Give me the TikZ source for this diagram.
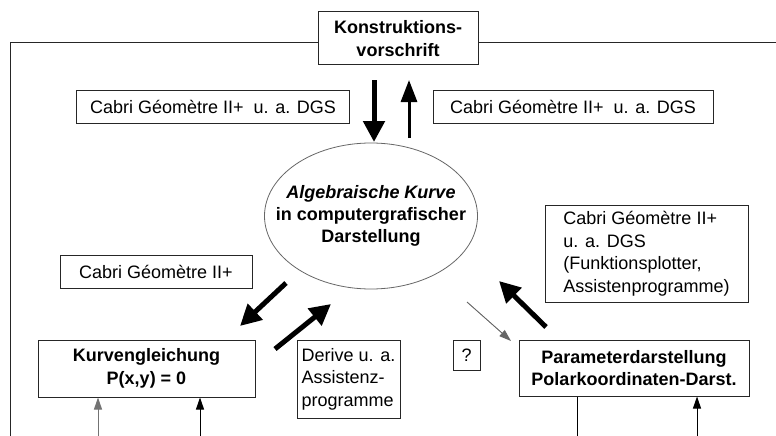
\documentclass[tikz,border=0pt]{standalone}
\usepackage{fontspec}
\setmainfont{Liberation Sans}
\usetikzlibrary{arrows.meta,shapes.geometric}
\begin{document}
\begin{tikzpicture}[x=1pt,y=-1pt,
  box/.style={draw=black!85, line width=1pt, fill=white, inner sep=0pt, align=center,
    font=\fontsize{18}{22.5}\selectfont},
  boldbox/.style={box, font=\fontsize{18}{22.5}\selectfont\bfseries},
  frame/.style={draw=black!85, line width=1pt},
  bigarrow/.style={line width=5pt, -{Triangle[width=21pt,length=21pt]}},
  midarrow/.style={line width=3pt, -{Triangle[width=16pt,length=22pt]}},
  thinarrow/.style={line width=0.9pt, -{Triangle[width=8pt,length=12pt]}},
]
\useasboundingbox (0,0) rectangle (776,436);
% outer frame
\coordinate (fb) at (10,436);
\coordinate (fc) at (10,43);
\coordinate (fr) at (776,43);
\draw[frame] (fb) -- (fc) -- (fr);

\node[boldbox, minimum width=160, minimum height=53] (konst) at (398,38.5) {Konstruktions-\\vorschrift};
\node[box, minimum width=273, minimum height=33] (cabL) at (213,106.5) {Cabri Géomètre II+\ \ u. a. DGS};
\node[box, minimum width=280, minimum height=33] (cabR) at (573,106.5) {Cabri Géomètre II+\ \ u. a. DGS};
\node[ellipse, draw=black!60, line width=0.8pt, minimum width=213, minimum height=146, inner sep=0pt] (ell) at (371,216) {};
\node[align=center, inner sep=0pt, font=\fontsize{18}{22}\selectfont\bfseries] (ellT) at (ell.center)
  {\textit{Algebraische Kurve}\\in computergrafischer\\Darstellung};
\node[box, minimum width=192, minimum height=33] (cab2) at (156,271.5) {Cabri Géomètre II+};
\node[box, minimum width=203, minimum height=97, align=left] (cab3) at (646.5,253.5)
  {Cabri Géomètre II+\\u. a. DGS\\(Funktionsplotter,\\Assistenprogramme)};
\node[boldbox, minimum width=217, minimum height=57] (kurv) at (146.5,368.5) {Kurvengleichung\\P(x,y) = 0};
\node[box, minimum width=103, minimum height=78, align=left] (der) at (348.5,379)
  {Derive u. a.\\Assistenz-\\programme};
\node[box, minimum width=27, minimum height=30] (q) at (466.5,355) {?};
\node[boldbox, minimum width=230, minimum height=56] (par) at (634,368) {Parameterdarstellung\\Polarkoordinaten-Darst.};

% arrows
\coordinate (d1s) at (374,80);  \coordinate (d1e) at (374,142);
\coordinate (u1s) at (409,138); \coordinate (u1e) at (409,80);
\draw[bigarrow] (d1s) -- (d1e);
\draw[midarrow] (u1s) -- (u1e);

\coordinate (a1s) at (286,283); \coordinate (a1e) at (240,326);
\coordinate (a2s) at (275,349); \coordinate (a2e) at (331,304);
\coordinate (a3s) at (546,327); \coordinate (a3e) at (499,281);
\draw[bigarrow] (a1s) -- (a1e);
\draw[bigarrow] (a2s) -- (a2e);
\draw[bigarrow] (a3s) -- (a3e);

\coordinate (t1s) at (467,302); \coordinate (t1e) at (511,341);
\draw[thinarrow, draw=black!60, fill=black] (t1s) -- (t1e);

% bottom connectors
\coordinate (b1) at (98,436);
\coordinate (b2) at (200,436);
\coordinate (b3) at (577,436);
\coordinate (b4) at (697,436);
\draw[thinarrow, draw=black!55, fill=black] (b1) -- (b1 |- kurv.south);
\draw[thinarrow] (b2) -- (b2 |- kurv.south);
\draw[line width=0.9pt] (par.south -| b3) -- (b3);
\draw[thinarrow] (b4) -- (b4 |- par.south);
\end{tikzpicture}
\end{document}
